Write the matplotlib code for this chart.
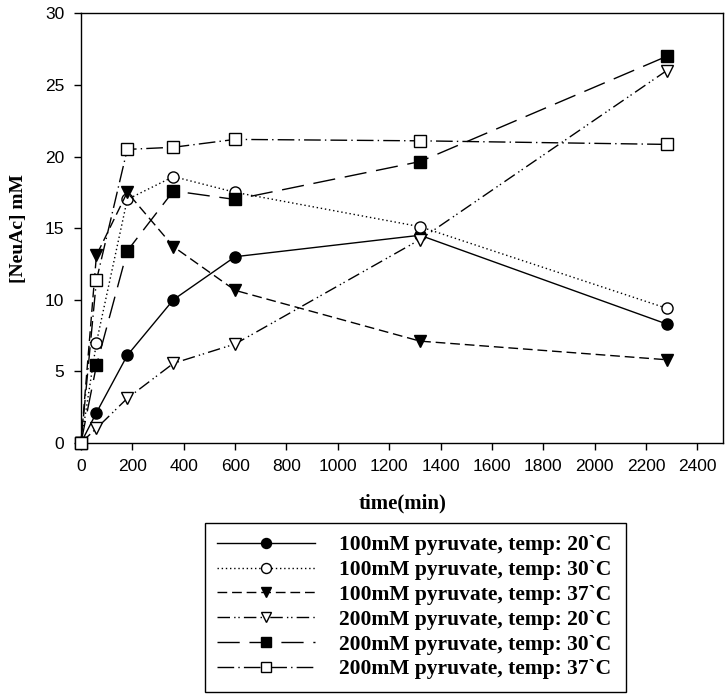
import matplotlib.pyplot as plt

time_min = [0, 60, 180, 360, 600, 1320, 2280]

p100_t20 = [0, 2.1, 6.1, 10.0, 13.0, 14.5, 8.3]
p100_t30 = [0, 7.0, 17.0, 18.6, 17.5, 15.1, 9.4]
p100_t37 = [0, 13.1, 17.5, 13.7, 10.65, 7.1, 5.8]
p200_t20 = [0, 1.0, 3.1, 5.55, 6.9, 14.2, 26.0]
p200_t30 = [0, 5.4, 13.4, 17.6, 17.0, 19.65, 27.0]
p200_t37 = [0, 11.35, 20.5, 20.65, 21.2, 21.1, 20.85]

labels = ['100mM pyruvate, temp: 20`C', '100mM pyruvate, temp: 30`C',
          '100mM pyruvate, temp: 37`C', '200mM pyruvate, temp: 20`C',
          '200mM pyruvate, temp: 30`C', '200mM pyruvate, temp: 37`C']

series = [p100_t20, p100_t30, p100_t37, p200_t20, p200_t30, p200_t37]
markers = ['o', 'o', 'v', 'v', 's', 's']
faces = ['black', 'white', 'black', 'white', 'black', 'white']
styles = ['-', (0, (1, 2)), (0, (7, 3.5)), (0, (9, 3, 1, 2, 1, 3)),
          (0, (16, 7)), (0, (12, 3, 1, 3))]

fig = plt.figure(figsize=(7.26, 6.95), dpi=100)
ax = fig.add_axes([0.1116, 0.363, 0.8843, 0.6176])

for y, m, fc, ls, lab in zip(series, markers, faces, styles, labels):
    ax.plot(time_min, y, color='black', linestyle=ls, linewidth=1.0,
            marker=m, markersize=8, markerfacecolor=fc,
            markeredgecolor='black', markeredgewidth=1.0,
            label=lab, clip_on=False, zorder=3)

ax.set_xlim(0, 2500)
ax.set_ylim(0, 30)
ax.set_xticks(range(0, 2401, 200))
ax.set_yticks(range(0, 31, 5))
ax.tick_params(direction='out', length=5, width=1, labelsize=12.5, pad=7)
for lbl in ax.get_xticklabels() + ax.get_yticklabels():
    lbl.set_family('Liberation Sans')
for s in ax.spines.values():
    s.set_linewidth(1.0)

ax.set_xlabel('time(min)', family='Liberation Serif', fontweight='bold',
              fontsize=15)
ax.set_ylabel('[NeuAc] mM', family='Liberation Serif', fontweight='bold',
              fontsize=14)
ax.xaxis.set_label_coords(0.501, -0.118)
ax.yaxis.set_label_coords(-0.084, 0.5)

leg = fig.legend(loc='upper left', bbox_to_anchor=(0.2824, 0.0, 0.58, 0.2475),
                 mode='expand', borderaxespad=0,
                 prop={'family': 'Liberation Serif', 'weight': 'bold',
                       'size': 15.5},
                 handlelength=4.55, handletextpad=1.12, labelspacing=0.22,
                 borderpad=0.57, fancybox=False, framealpha=1,
                 edgecolor='black', markerscale=0.9)
leg.get_frame().set_linewidth(1.0)

plt.savefig('out.png', dpi=100)
